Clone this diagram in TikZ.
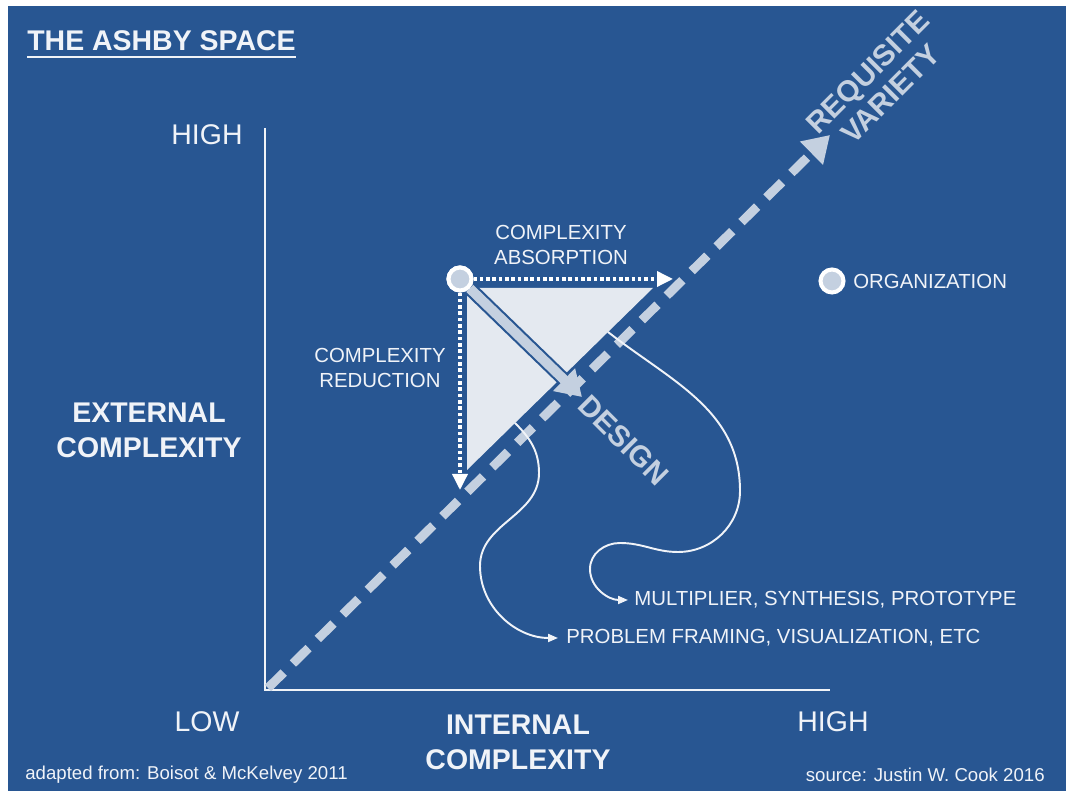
\documentclass[tikz,border=0pt]{standalone}
\usepackage{fontspec}
\setmainfont{Liberation Sans}
\usetikzlibrary{arrows.meta}
\definecolor{ashbyblue}{RGB}{40,86,146}
\definecolor{paleblue}{RGB}{196,208,224}
\definecolor{trifill}{RGB}{228,233,240}
\definecolor{textwhite}{RGB}{240,243,248}
\tikzset{
  axislabel/.style={text=textwhite, font=\fontsize{16.2}{19.9}\selectfont, align=center, inner sep=0pt},
  axistitle/.style={axislabel, font=\fontsize{16.2}{19.9}\selectfont\bfseries},
  smalllabel/.style={text=textwhite, font=\fontsize{11.6}{13.7}\selectfont, align=center, inner sep=0pt},
  footnote/.style={text=textwhite, font=\fontsize{10.6}{12}\selectfont, inner sep=0pt},
  bigarrowlabel/.style={text=paleblue, font=\fontsize{16.8}{18}\selectfont\bfseries, align=center, inner sep=0pt},
  orgdot/.style={circle, draw=white, line width=2.3pt, fill=paleblue, minimum size=0.46cm, inner sep=0pt},
  axisline/.style={textwhite, line width=1.7pt},
  varietyline/.style={paleblue, line width=5.1pt, dash pattern=on 12.5pt off 7.4pt, -{Triangle[length=0.52cm,width=0.62cm]}},
  dotline/.style={white, line width=2pt, dash pattern=on 2pt off 1.6pt, -{Triangle[length=0.32cm,width=0.3cm]}},
  flowline/.style={textwhite, line width=1.1pt, -{Triangle[length=0.2cm,width=0.16cm]}},
}
\begin{document}
\begin{tikzpicture}[x=0.02cm,y=0.02cm]
\useasboundingbox (0,0) rectangle (1066,791);
\fill[white] (0,0) rectangle (1066,791);
\fill[ashbyblue] (8,0) rectangle (1066,785);
% title
\node[axistitle, anchor=base west] (title) at (27,740) {THE ASHBY SPACE};
\draw[textwhite, line width=1.1pt] ([yshift=-0.12cm]title.base west) -- ([yshift=-0.12cm]title.base east);
% axes
\coordinate (origin) at (265,101);
\coordinate (ymax) at (265,663);
\coordinate (xmax) at (830,101);
\draw[axisline] (ymax) -- (origin) -- (xmax);
\node[axislabel] (yhigh) at (207,656) {HIGH};
\node[axislabel] (ylow) at (207,69) {LOW};
\node[axislabel] (xhigh) at (833,69) {HIGH};
\node[axistitle] (ylabel) at (149,361) {EXTERNAL\\COMPLEXITY};
\node[axistitle] (xlabel) at (518,49) {INTERNAL\\COMPLEXITY};
% triangle
\coordinate (tri1) at (467,503);
\coordinate (tri2) at (653,503);
\coordinate (tri3) at (467,321);
\fill[trifill] (tri1) -- (tri2) -- (tri3) -- cycle;
% requisite variety
\coordinate (rvstart) at (268,103);
\coordinate (rvtip) at (830,656);
\draw[varietyline] (rvstart) -- (rvtip);
\node[bigarrowlabel, rotate=45] (rvlabel) at (879,708) {REQUISITE\\VARIETY};
% organization and moves
\node[orgdot] (org) at (460,512) {};
\coordinate (absorbtip) at (673,512);
\coordinate (reducetip) at (460,301);
\coordinate (designtip) at (582,394);
\draw[dotline] (org) -- (absorbtip);
\draw[dotline] (org) -- (reducetip);
\draw[ashbyblue, line width=8pt, shorten >=0.45cm] (org) -- (designtip);
\draw[paleblue, line width=5.6pt, -{Triangle[length=0.5cm,width=0.6cm]}] (org) -- (designtip);
\node[orgdot] at (org) {};
\node[smalllabel] (absorb) at (561,546) {COMPLEXITY\\ABSORPTION};
\node[smalllabel] (reduce) at (380,423) {COMPLEXITY\\REDUCTION};
\node[bigarrowlabel, rotate=-45] (design) at (624,351) {DESIGN};
% legend
\node[orgdot] (legenddot) at (832,510) {};
\node[smalllabel, anchor=west] (legendtext) at (853,510) {ORGANIZATION};
% outcomes
\coordinate (hypA) at (608,459);
\coordinate (hypB) at (515,368);
\node[smalllabel, anchor=west] (mult) at (634,191) {MULTIPLIER, SYNTHESIS, PROTOTYPE};
\node[smalllabel, anchor=west] (prob) at (566,153) {PROBLEM FRAMING, VISUALIZATION, ETC};
\draw[flowline] (hypA) to[out=-38,in=90] (740,300) to[out=-90,in=0] (678,239)
  to[out=180,in=0] (620,248) to[out=180,in=90] (590,222) to[out=-90,in=180] ([xshift=-0.12cm]mult.west);
\draw[flowline] (hypB) to[out=-45,in=90] (539,318) to[out=-90,in=90] (480,225)
  to[out=-90,in=180] ([xshift=-0.16cm]prob.west);
% sources
\node[footnote, anchor=west] (adapted) at (25,16) {adapted from: Boisot \& McKelvey 2011};
\node[footnote, anchor=east] (source) at (1045,16) {source: Justin W. Cook 2016};
\end{tikzpicture}
\end{document}
